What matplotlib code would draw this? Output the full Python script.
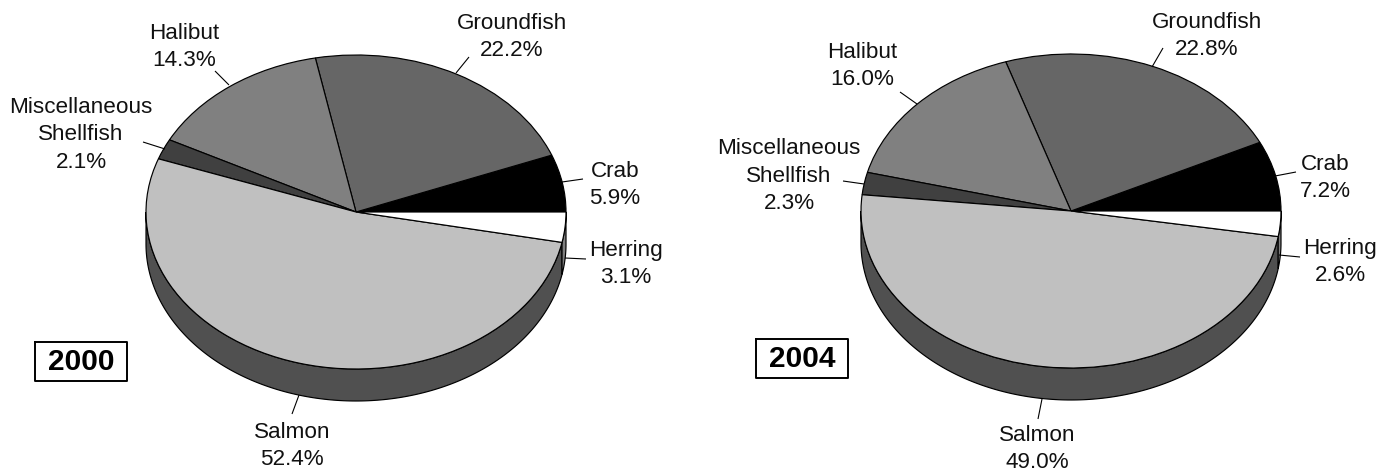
import matplotlib
matplotlib.use("Agg")
import matplotlib.pyplot as plt
from matplotlib.patches import Polygon
import numpy as np

plt.rcParams["font.family"] = ["Liberation Sans", "DejaVu Sans"]

# ---------- data ----------
categories = ["Crab", "Groundfish", "Halibut", "Miscellaneous\nShellfish", "Salmon", "Herring"]
share_2000 = [5.9, 22.2, 14.3, 2.1, 52.4, 3.1]
share_2004 = [7.2, 22.8, 16.0, 2.3, 49.0, 2.6]
years = ["2000", "2004"]

# ---------- styles / layout (pixels) ----------
W, H = 1390, 472
top_colors = ["#000000", "#666666", "#808080", "#404040", "#C0C0C0", "#FFFFFF"]
side_colors = ["#000000", "#333333", "#404040", "#202020", "#505050", "#7F7F7F"]
FS = 16.2

label_xy_2000 = [(615, 185), (512, 37), (184, 47), (81, 135), (292, 446), (626, 264)]
leader_2000 = [(562, 182, 583, 179), (456, 73, 469, 57), (229, 85, 215, 71),
               (165, 149, 143, 142), (299, 395, 292, 414), (565, 258, 586, 259)]
label_xy_2004 = [(1325, 178), (1207, 36), (862, 66), (789, 176), (1037, 449), (1340, 262)]
leader_2004 = [(1275, 176, 1296, 172), (1152, 67, 1163, 48), (917, 104, 900, 92),
               (864, 184, 843, 181), (1042, 399, 1038, 419), (1279, 255, 1300, 257)]
box_2000 = (35, 342, 127, 381)
box_2004 = (756, 339, 848, 378)
pies = [
    (share_2000, 356, 212, 210, 157, 32, label_xy_2000, leader_2000, box_2000, years[0]),
    (share_2004, 1071, 211, 210, 157, 32, label_xy_2004, leader_2004, box_2004, years[1]),
]

fig = plt.figure(figsize=(W / 100, H / 100), dpi=100, facecolor="white")

# overlay in pixel coordinates for labels, leaders and year boxes
over = fig.add_axes([0, 0, 1, 1], zorder=5)
over.set_xlim(0, W)
over.set_ylim(H, 0)
over.axis("off")
over.patch.set_alpha(0)

for values, cx, cy, rx, ry, depth, label_xy, leaders, box, year in pies:
    ax = fig.add_axes([(cx - rx) / W, 1 - (cy + ry) / H, 2 * rx / W, 2 * ry / H])
    ax.pie(values, colors=top_colors, startangle=0, counterclock=True, radius=1,
           normalize=True, frame=True,
           wedgeprops={"edgecolor": "black", "linewidth": 0.85, "zorder": 3})
    ax.set_aspect("auto")
    ax.set_xlim(-1, 1)
    ax.set_ylim(-1, 1)
    ax.axis("off")

    # side wall: visible part of each slice, below the horizontal
    d = 2 * depth / (2 * ry)
    edges = np.cumsum([0] + list(values)) / sum(values) * 360
    for i in range(len(values)):
        a0, a1 = max(edges[i], 180), edges[i + 1]
        if a1 <= a0:
            continue
        t = np.radians(np.linspace(a0, a1, 200))
        xs = np.cos(t)
        ys = np.sin(t)
        pts = np.concatenate([np.c_[xs, ys], np.c_[xs, ys - d][::-1]])
        ax.add_patch(Polygon(pts, closed=True, facecolor=side_colors[i], edgecolor="black",
                             linewidth=0.85, zorder=1, clip_on=False))

    # labels with their percentages
    for name, v, (lx, ly), (x0, y0, x1, y1) in zip(categories, values, label_xy, leaders):
        over.text(lx, ly, f"{name}\n{v:.1f}%", ha="center", va="center", fontsize=FS,
                  linespacing=1.42, color="#111111")
        over.plot([x0, x1], [y0, y1], color="black", lw=0.8, solid_capstyle="butt")

    # year box
    x0, y0, x1, y1 = box
    over.plot([x0, x1, x1, x0, x0], [y0, y0, y1, y1, y0], color="black", lw=1.4)
    over.text((x0 + x1) / 2, (y0 + y1) / 2 + 0.5, year, ha="center", va="center",
              fontsize=21.5, fontweight="bold")

fig.savefig("out.png", dpi=100)
